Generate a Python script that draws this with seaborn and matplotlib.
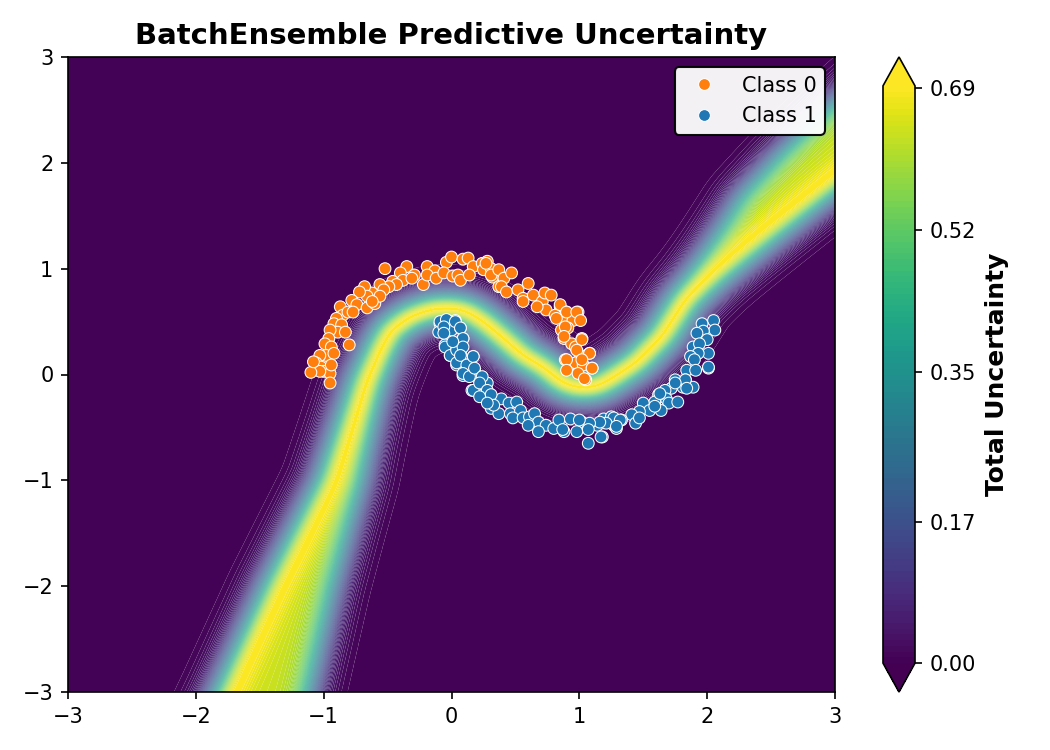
import numpy as np
import pandas as pd
import matplotlib
matplotlib.use("Agg")
import matplotlib.pyplot as plt
import seaborn as sns

# ---------------- data ----------------
class0_x = [-0.52, -0.35, -0.29, -0.19, -0.13, -0.04, 0.00, 0.09, 0.13, 0.17, 0.24, 0.28, 0.32, 0.37,
            -0.40, -0.38, -0.31, -0.22, -0.19, -0.12, -0.06, 0.01, 0.05, 0.07, 0.14, 0.25, 0.31,
            -0.46, -0.43, -0.49, -0.56, -0.53, -0.62, -0.68, -0.66, -0.72, -0.78, -0.74, -0.66, -0.60,
            -0.56, -0.62, -0.87, -0.85, -0.81, -0.77, -0.90, -0.92, -0.86, -0.89, -0.83, -0.95, -0.96,
            -0.99, -0.94, -0.80, -0.98, -1.03, -0.92, -1.06, -1.02, -1.00, -0.95, -0.94, -1.03, -0.95,
            0.27, 0.31, 0.37, 0.41, 0.47, 0.39, 0.43, 0.52, 0.56, 0.60, 0.64, 0.71, 0.73, 0.78, 0.74,
            0.85, 0.81, 0.90, 0.99, 0.89, 0.95, 0.86, 0.91, 0.88, 0.94, 1.02, 0.97, 1.01, 1.08, 0.89,
            0.97, 1.03, 0.99, 1.10, 1.05,
            0.56, 0.67, 0.85, 0.90, 0.98, 0.82, 0.89, 1.01, 0.88, 1.02, 1.08, 0.98, 0.90, 1.02, 1.10,
            1.04, 0.90, -1.10, -1.08]
class0_y = [1.00, 1.02, 0.94, 1.02, 0.98, 1.06, 1.11, 1.09, 1.10, 1.02, 1.05, 1.07, 0.92, 0.83,
            0.96, 0.89, 0.91, 0.85, 0.94, 0.91, 0.96, 0.93, 0.94, 0.89, 0.94, 0.99, 1.00,
            0.88, 0.85, 0.83, 0.85, 0.80, 0.77, 0.83, 0.74, 0.78, 0.70, 0.66, 0.63, 0.67,
            0.74, 0.69, 0.64, 0.56, 0.59, 0.59, 0.53, 0.48, 0.47, 0.40, 0.40, 0.42, 0.34,
            0.29, 0.26, 0.28, 0.18, 0.18, 0.20, 0.11, 0.07, 0.03, 0.01, 0.09, 0.03, -0.08,
            1.05, 0.94, 0.99, 0.91, 0.96, 0.83, 0.78, 0.80, 0.72, 0.86, 0.75, 0.69, 0.77, 0.75, 0.61,
            0.64, 0.56, 0.59, 0.59, 0.50, 0.51, 0.42, 0.44, 0.34, 0.29, 0.34, 0.26, 0.18, 0.20, 0.14,
            0.11, 0.09, 0.01, 0.06, -0.05,
            0.69, 0.64, 0.66, 0.59, 0.59, 0.53, 0.45, 0.51, 0.36, 0.33, 0.20, 0.23, 0.14, 0.14, 0.06,
            -0.04, 0.04, 0.02, 0.12]

class1_x = [-0.09, -0.02, 0.03, -0.10, 0.00, 0.07, 0.09, -0.05, -0.01, 0.05, 0.07, 0.17, 0.04, 0.12,
            0.18, 0.09, 0.21, 0.28, 0.16, 0.25, 0.31, 0.39, 0.45, 0.51, 0.31, 0.37, 0.46, 0.54, 0.48,
            0.56, 0.61, 0.65, 0.68, 0.74, 0.60, 0.68, 0.80, 0.84, 0.88, 0.93, 1.02, 1.07, 1.14, 1.07,
            1.18, 1.19, 1.25, 1.27, 0.98,
            2.05, 2.06, 1.96, 1.97, 1.92, 2.00, 1.89, 1.94, 2.01, 1.93, 1.87, 1.90, 2.01, 1.84, 1.91,
            1.83, 1.75, 1.89, 1.81, 1.72, 1.67, 1.68, 1.62, 1.59, 1.70, 1.77, 1.50, 1.55, 1.64, 1.47,
            1.41, 1.44, 1.33, 1.27, 1.21, 1.29, 1.17,
            2.01, 1.83, 1.84, 1.75, 1.63, 1.59, 1.47, 1.32, 1.29, 1.16, 1.08, 1.00, 1.07, 0.87,
            -0.09, -0.04, 0.03, 0.07, 0.09, -0.06, -0.06, -0.05, -0.01, 0.04, 0.09, 0.01, 0.04, 0.07,
            0.12, 0.17, 0.09, 0.14, 0.18, 0.24, 0.17, 0.22, 0.28, 0.31, 0.22, 0.33, 0.28]
class1_y = [0.48, 0.50, 0.51, 0.40, 0.42, 0.44, 0.34, 0.28, 0.18, 0.26, 0.20, 0.17, 0.09, 0.09,
            0.04, -0.01, -0.04, -0.08, -0.15, -0.19, -0.24, -0.23, -0.27, -0.26, -0.32, -0.37, -0.37,
            -0.34, -0.41, -0.41, -0.40, -0.37, -0.45, -0.48, -0.48, -0.54, -0.51, -0.43, -0.54, -0.42,
            -0.45, -0.51, -0.48, -0.65, -0.59, -0.42, -0.40, -0.48, -0.54,
            0.51, 0.42, 0.48, 0.41, 0.39, 0.33, 0.26, 0.29, 0.20, 0.20, 0.17, 0.14, 0.06, 0.04, 0.04,
            -0.05, -0.05, -0.12, -0.12, -0.13, -0.15, -0.23, -0.19, -0.26, -0.27, -0.26, -0.27, -0.34,
            -0.34, -0.35, -0.38, -0.46, -0.43, -0.41, -0.46, -0.51, -0.59,
            0.07, -0.05, -0.13, -0.08, -0.18, -0.30, -0.41, -0.43, -0.49, -0.45, -0.46, -0.43, -0.52,
            -0.52,
            0.50, 0.52, 0.50, 0.44, 0.34, 0.45, 0.39, 0.26, 0.18, 0.23, 0.26, 0.31, 0.11, 0.18,
            0.09, 0.17, 0.01, -0.02, 0.06, -0.02, -0.15, -0.08, -0.15, -0.19, -0.21, -0.29, -0.27]

class_labels = ["Class 0", "Class 1"]
class_colors = ["#ff7f0e", "#1f77b4"]

# decision boundaries of the ensemble members (read from the bright ridge / plateau edges)
memberA_x = [-2.05, -1.75, -1.37, -0.95, -0.68, -0.47, -0.32, -0.15, 0.00, 0.12, 0.25, 0.40,
             0.56, 0.72, 0.87, 1.00, 1.15, 1.30, 1.45, 1.65, 1.83, 2.05, 2.31, 3.00, 3.50]
memberA_y = [-3.75, -3.00, -2.00, -1.00, -0.05, 0.42, 0.55, 0.62, 0.63, 0.60, 0.50, 0.35,
             0.18, 0.07, -0.08, -0.13, -0.11, 0.00, 0.12, 0.36, 0.70, 0.93, 1.18, 1.84, 2.30]
memberB_x = [-1.33, -1.17, -0.98, -0.76, -0.64, -0.55, -0.47, -0.32, -0.15, 0.00, 0.12, 0.25, 0.40,
             0.56, 0.72, 0.87, 1.00, 1.15, 1.30, 1.45, 1.65, 1.90, 2.31, 2.60, 3.00, 3.40]
memberB_y = [-3.75, -3.00, -2.00, -1.00, -0.20, 0.25, 0.42, 0.55, 0.62, 0.63, 0.60, 0.50, 0.35,
             0.18, 0.07, -0.08, -0.13, -0.11, 0.00, 0.12, 0.38, 0.87, 1.66, 2.04, 2.50, 2.92]
member_weights = [2, 1]
sharpness = 17.0

cbar_ticks = [0.0, 0.17, 0.35, 0.52, 0.69]

# ---------------- build uncertainty field ----------------
def dense_curve(cx, cy, step=0.006, sigma=0.06):
    cx = np.asarray(cx, float); cy = np.asarray(cy, float)
    s = np.concatenate([[0], np.cumsum(np.hypot(np.diff(cx), np.diff(cy)))])
    ss = np.arange(0, s[-1], step)
    xx = np.interp(ss, s, cx); yy = np.interp(ss, s, cy)
    half = int(3 * sigma / step)
    ker = np.exp(-0.5 * (np.arange(-half, half + 1) * step / sigma) ** 2)
    ker /= ker.sum()
    xx = np.convolve(np.pad(xx, half, mode="edge"), ker, mode="valid")
    yy = np.convolve(np.pad(yy, half, mode="edge"), ker, mode="valid")
    return xx, yy

n = 320
gx = np.linspace(-3, 3, n)
gy = np.linspace(-3, 3, n)
GX, GY = np.meshgrid(gx, gy)
pts = np.column_stack([GX.ravel(), GY.ravel()])

def member_prob(cx, cy):
    xx, yy = dense_curve(cx, cy)
    d = np.empty(len(pts))
    for i in range(0, len(pts), 4000):
        p = pts[i:i + 4000]
        dd = (p[:, 0:1] - xx[None, :]) ** 2 + (p[:, 1:2] - yy[None, :]) ** 2
        d[i:i + 4000] = np.sqrt(dd.min(axis=1))
    sign = np.sign(pts[:, 1] - np.interp(pts[:, 0], xx, yy))
    return 1.0 / (1.0 + np.exp(-sharpness * sign * d))

pA = member_prob(memberA_x, memberA_y)
pB = member_prob(memberB_x, memberB_y)
w = np.array(member_weights, float)
pm = (w[0] * pA + w[1] * pB) / w.sum()
pm = np.clip(pm, 1e-12, 1 - 1e-12)
H = -(pm * np.log(pm) + (1 - pm) * np.log(1 - pm))
H = H.reshape(GX.shape)

# ---------------- figure ----------------
fig = plt.figure(figsize=(7, 5), dpi=150)
ax = fig.add_axes([68 / 1050, 1 - 692 / 750, (835 - 68) / 1050, (692 - 57) / 750])
cax = fig.add_axes([883 / 1050, 1 - 692 / 750, 32 / 1050, (692 - 57) / 750])

levels = np.linspace(0, np.log(2), 101)
cf = ax.contourf(GX, GY, H, levels=levels, cmap="viridis", extend="both", antialiased=True)

df = pd.DataFrame({
    "x": class0_x + class1_x,
    "y": class0_y + class1_y,
    "label": [class_labels[0]] * len(class0_x) + [class_labels[1]] * len(class1_x),
})
sns.scatterplot(data=df, x="x", y="y", hue="label", hue_order=class_labels,
                palette=dict(zip(class_labels, class_colors)), s=32,
                edgecolor="white", linewidth=0.5, ax=ax, zorder=3)

ax.set_xlim(-3, 3)
ax.set_ylim(-3, 3)
ax.set_xticks(range(-3, 4))
ax.set_yticks(range(-3, 4))
ax.set_xlabel("")
ax.set_ylabel("")
ax.tick_params(labelsize=10)
ax.set_title("BatchEnsemble Predictive Uncertainty", fontsize=14, fontweight="bold")

sns.move_legend(ax, "upper right", title=None, frameon=True, framealpha=0.95,
                fontsize=10, edgecolor="black")

cb = fig.colorbar(cf, cax=cax, ticks=cbar_ticks)
cb.ax.set_yticklabels([f"{t:.2f}" for t in cbar_ticks])
cb.ax.tick_params(labelsize=10)
cb.set_label("Total Uncertainty", fontsize=12, fontweight="bold")

fig.savefig("out.png", dpi=150)
